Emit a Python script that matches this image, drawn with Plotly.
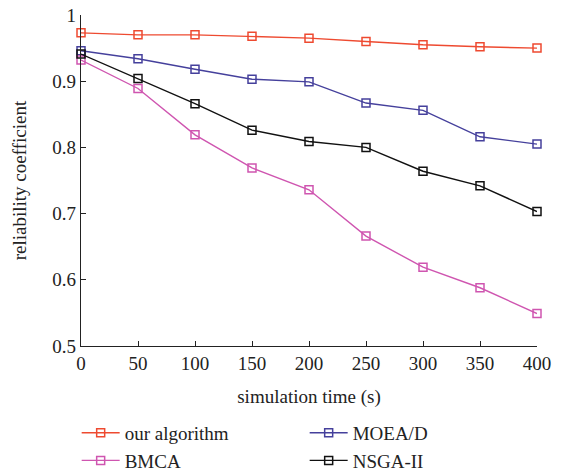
import plotly.graph_objects as go

times = [0, 50, 100, 150, 200, 250, 300, 350, 400]
our_algorithm = [0.973, 0.970, 0.970, 0.968, 0.965, 0.960, 0.955, 0.952, 0.950]
moead = [0.946, 0.934, 0.918, 0.903, 0.899, 0.867, 0.856, 0.816, 0.805]
bmca = [0.932, 0.889, 0.819, 0.769, 0.736, 0.666, 0.619, 0.588, 0.549]
nsga2 = [0.941, 0.904, 0.866, 0.826, 0.809, 0.800, 0.764, 0.742, 0.703]
x_ticks = [0, 50, 100, 150, 200, 250, 300, 350, 400]
y_ticks = [0.5, 0.6, 0.7, 0.8, 0.9, 1.0]
y_tick_labels = ["0.5", "0.6", "0.7", "0.8", "0.9", "1"]

FONT = "Liberation Serif, Times New Roman, serif"

series = [
    ("our algorithm", our_algorithm, "#ee4a30"),
    ("MOEA/D", moead, "#45409c"),
    ("BMCA", bmca, "#cf55b0"),
    ("NSGA-II", nsga2, "#111111"),
]

fig = go.Figure()
for name, vals, col in series:
    fig.add_trace(go.Scatter(
        x=times, y=vals, name=name, mode="lines+markers",
        line=dict(color=col, width=1.4),
        marker=dict(symbol="square-open", size=8, color=col, line=dict(width=1.5, color=col)),
        cliponaxis=False,
    ))

fig.update_layout(
    width=566, height=470,
    margin=dict(l=81, r=29, t=15, b=124, autoexpand=False),
    paper_bgcolor="white", plot_bgcolor="white",
    font=dict(family=FONT, size=19, color="#222"),
    showlegend=True,
    legend=dict(
        orientation="h", x=-0.0095, y=-0.205, xanchor="left", yanchor="top",
        entrywidth=175, entrywidthmode="pixels",
        font=dict(family=FONT, size=19, color="#222"),
        tracegroupgap=0, itemwidth=38,
    ),
)
fig.update_xaxes(
    range=[0, 400], tickvals=x_ticks, ticks="inside", ticklen=5, tickwidth=1.2,
    tickcolor="#222", showline=True, linecolor="#222", linewidth=1.2,
    showgrid=False, zeroline=False,
    title=dict(text="simulation time (s)", font=dict(family=FONT, size=19), standoff=16),
)
fig.update_yaxes(
    range=[0.5, 1.0], tickvals=y_ticks, ticktext=y_tick_labels, ticks="inside", ticklen=5,
    tickwidth=1.2, tickcolor="#222", showline=True, linecolor="#222", linewidth=1.2,
    showgrid=False, zeroline=False, ticklabeloverflow="allow",
    title=dict(text="reliability coefficient", font=dict(family=FONT, size=19), standoff=20),
)

fig.write_html(
    "out.html",
    config={"displayModeBar": False},
    post_script="document.body.style.margin='0';document.body.style.padding='0';",
)
